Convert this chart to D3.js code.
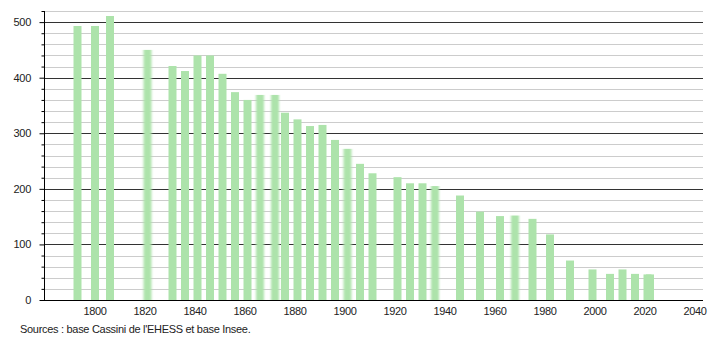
<!DOCTYPE html>
<html>
<head>
<meta charset="utf-8">
<script src="https://cdn.jsdelivr.net/npm/d3@7"></script>
<style>
  body { margin: 0; background: #fff; }
  text { font-family: "Liberation Sans", Arial, sans-serif; fill: #222; }
</style>
</head>
<body>
<div id="chart"></div>
<script>
// census years and population
var years = [1793, 1800, 1806, 1821, 1831, 1836, 1841, 1846, 1851, 1856, 1861, 1866, 1872, 1876,
  1881, 1886, 1891, 1896, 1901, 1906, 1911, 1921, 1926, 1931, 1936, 1946, 1954, 1962, 1968,
  1975, 1982, 1990, 1999, 2006, 2011, 2016, 2021, 2022];
var population = [493, 493, 511, 450, 421, 412, 440, 440, 407, 374, 360, 369, 369, 337,
  325, 313, 315, 288, 272, 245, 228, 221, 210, 210, 205, 188, 159, 151, 152,
  146, 118, 71, 55, 47, 55, 47, 46, 46];
var xTicks = [1800, 1820, 1840, 1860, 1880, 1900, 1920, 1940, 1960, 1980, 2000, 2020, 2040];
var yTicks = [0, 100, 200, 300, 400, 500];
var sourceText = "Sources : base Cassini de l'EHESS et base Insee.";

// bars that look smeared in the original
var fuzzy = [1821, 1866, 1872, 1901, 1936, 1968];

var width = 710, height = 340;
var plotLeft = 44, plotRight = 703, plotTop = 11, plotBottom = 300;

var svg = d3.select("#chart")
  .append("svg")
  .attr("width", width)
  .attr("height", height);

var defs = svg.append("defs");
defs.append("filter")
  .attr("id", "smear")
  .attr("x", "-50%").attr("width", "200%")
  .append("feGaussianBlur")
  .attr("stdDeviation", "1.3 0");

var x = d3.scaleLinear().domain([1779.6, 2043.2]).range([plotLeft, plotRight]);
var y = d3.scaleLinear().domain([0, 520]).range([plotBottom, plotTop]);

// grid lines, every 20 light and every 100 dark
var minor = d3.range(20, 540, 20).filter(function (d) { return d % 100 != 0; });
svg.append("g")
  .selectAll("line")
  .data(minor)
  .enter()
  .append("line")
  .attr("x1", plotLeft).attr("x2", plotRight)
  .attr("y1", function (d) { return Math.round(y(d)) + 0.5; })
  .attr("y2", function (d) { return Math.round(y(d)) + 0.5; })
  .attr("stroke", "#cccccc")
  .attr("stroke-width", 1);

svg.append("g")
  .selectAll("line")
  .data(yTicks.filter(function (d) { return d > 0; }))
  .enter()
  .append("line")
  .attr("x1", plotLeft).attr("x2", plotRight)
  .attr("y1", function (d) { return Math.round(y(d)) + 0.5; })
  .attr("y2", function (d) { return Math.round(y(d)) + 0.5; })
  .attr("stroke", "#333333")
  .attr("stroke-width", 1);

// bars
svg.append("g")
  .selectAll("rect")
  .data(years)
  .enter()
  .append("rect")
  .attr("x", function (d) { return x(d) - 4; })
  .attr("width", 8)
  .attr("y", function (d, i) { return y(population[i]); })
  .attr("height", function (d, i) { return y(0) - y(population[i]); })
  .attr("fill", "#ade3ab")
  .attr("filter", function (d) { return fuzzy.indexOf(d) >= 0 ? "url(#smear)" : null; });

// y axis
var yAxis = svg.append("g")
  .attr("transform", "translate(" + (plotLeft + 0.5) + ",0)")
  .call(d3.axisLeft(y).tickValues(d3.range(0, 540, 20)).tickSize(4).tickFormat(""));
yAxis.select(".domain").attr("stroke", "#000").attr("d", "M0," + plotTop + "V" + plotBottom);
yAxis.selectAll(".tick line")
  .attr("stroke", "#000")
  .attr("x2", function (d) { return d % 100 == 0 ? -5 : -3; });

svg.append("g")
  .selectAll("text")
  .data(yTicks)
  .enter()
  .append("text")
  .attr("x", plotLeft - 13)
  .attr("y", function (d) { return y(d) + 4; })
  .attr("text-anchor", "end")
  .attr("font-size", 11)
  .attr("letter-spacing", -0.3)
  .text(function (d) { return d; });

// x axis
svg.append("line")
  .attr("x1", plotLeft - 4).attr("x2", plotRight)
  .attr("y1", plotBottom + 0.5).attr("y2", plotBottom + 0.5)
  .attr("stroke", "#000");

svg.append("g")
  .selectAll("text")
  .data(xTicks)
  .enter()
  .append("text")
  .attr("x", function (d) { return x(d); })
  .attr("y", plotBottom + 15)
  .attr("text-anchor", "middle")
  .attr("font-size", 11)
  .attr("letter-spacing", -0.4)
  .text(function (d) { return d; });

svg.append("text")
  .attr("x", 20)
  .attr("y", 333)
  .attr("font-size", 11)
  .attr("letter-spacing", -0.3)
  .text(sourceText);
</script>
</body>
</html>
